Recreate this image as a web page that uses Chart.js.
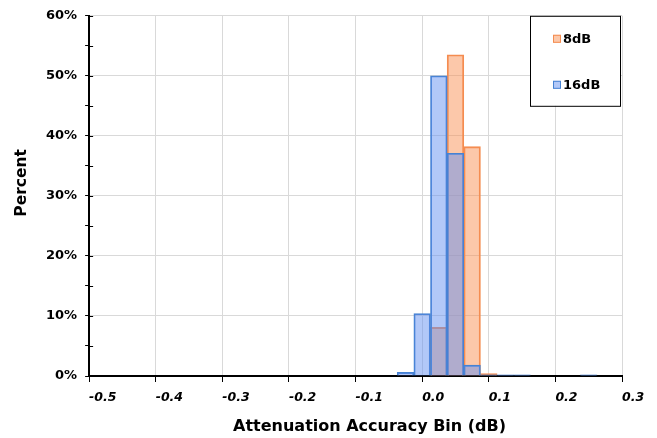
<!DOCTYPE html>
<html>
<head>
<meta charset="utf-8">
<script src="https://cdn.jsdelivr.net/npm/chart.js@4/dist/chart.umd.min.js"></script>
<style>
  html, body { margin: 0; padding: 0; background: #fff; }
  #wrap { width: 657px; height: 438px; }
</style>
</head>
<body>
<div id="wrap"><canvas id="chart" width="657" height="438"></canvas></div>
<script>
// histogram bins (dB, bin centres) and percent per bin
const bins = [-0.025, 0, 0.025, 0.05, 0.075, 0.1, 0.125, 0.15, 0.175, 0.2, 0.225, 0.25];
const pct8dB = [null, null, 8.1, 53.5, 38.2, 0.4, null, null, null, null, null, null];
const pct16dB = [0.6, 10.4, 50.0, 37.1, 1.8, 0.2, 0.2, 0.2, null, null, null, 0.2];
const seriesNames = ['8dB', '16dB'];
const xTitle = 'Attenuation Accuracy Bin (dB)';
const yTitle = 'Percent';

const FONT = '"DejaVu Sans", Verdana, sans-serif';

function toPoints(vals) {
  return bins.map((b, i) => ({ x: b, y: vals[i] }));
}

// axis titles, inner halves of the y tick marks, boxed legend
const extras = {
  id: 'extras',
  afterDraw(chart) {
    const ctx = chart.ctx;
    const area = chart.chartArea;
    const yScale = chart.scales.y;
    ctx.save();

    // y tick marks cross the axis
    ctx.strokeStyle = '#000';
    ctx.lineWidth = 1;
    yScale.ticks.forEach(t => {
      const py = Math.round(yScale.getPixelForValue(t.value)) + 0.5;
      ctx.beginPath();
      ctx.moveTo(area.left, py);
      ctx.lineTo(area.left + 4, py);
      ctx.stroke();
    });

    // titles
    ctx.fillStyle = '#000';
    ctx.font = 'bold 16px ' + FONT;
    ctx.textAlign = 'center';
    ctx.textBaseline = 'alphabetic';
    ctx.fillText(xTitle, (area.left + area.right) / 2 + 14, area.bottom + 55);
    ctx.save();
    ctx.translate(area.left - 67, (area.top + area.bottom) / 2 - 13);
    ctx.rotate(-Math.PI / 2);
    ctx.font = 'bold 15.5px ' + FONT;
    ctx.textBaseline = 'middle';
    ctx.fillText(yTitle, 0, 0);
    ctx.restore();

    // legend box
    const x0 = area.right - 92, y0 = area.top, w = 90, h = 90;
    ctx.fillStyle = '#fff';
    ctx.fillRect(x0, y0, w, h);
    ctx.strokeStyle = '#000';
    ctx.strokeRect(x0 + 0.5, y0 + 0.5, w, h);
    ctx.font = 'bold 13px ' + FONT;
    ctx.textAlign = 'left';
    ctx.textBaseline = 'middle';
    chart.data.datasets.forEach((ds, i) => {
      const cy = y0 + 23 + i * 46;
      ctx.fillStyle = ds.backgroundColor;
      ctx.fillRect(x0 + 23, cy - 4, 8, 8);
      ctx.strokeStyle = ds.borderColor;
      ctx.strokeRect(x0 + 23.5, cy - 3.5, 7, 7);
      ctx.fillStyle = '#000';
      ctx.fillText(ds.label, x0 + 33, cy + 1);
    });
    ctx.restore();
  }
};

new Chart(document.getElementById('chart'), {
  type: 'bar',
  data: {
    datasets: [
      {
        label: seriesNames[0],
        data: toPoints(pct8dB),
        backgroundColor: 'rgba(249,145,85,0.5)',
        borderColor: 'rgb(244,140,80)',
        borderWidth: 1.2,
        order: 1
      },
      {
        label: seriesNames[1],
        data: toPoints(pct16dB),
        backgroundColor: 'rgba(101,145,241,0.5)',
        borderColor: 'rgb(70,130,210)',
        borderWidth: 1.2,
        order: 0
      }
    ]
  },
  options: {
    responsive: false,
    animation: false,
    grouped: false,
    barPercentage: 1,
    categoryPercentage: 1,
    layout: { padding: { top: 3, right: 35, left: 38, bottom: 25 } },
    plugins: {
      legend: { display: false },
      tooltip: { enabled: false }
    },
    scales: {
      x: {
        type: 'linear',
        offset: false,
        min: -0.5,
        max: 0.3,
        ticks: {
          stepSize: 0.1,
          align: 'start',
          maxRotation: 0,
          padding: 8,
          color: '#000',
          font: { family: FONT, size: 12.5, weight: 'bold', style: 'italic' },
          callback: v => (Math.abs(v) < 1e-9 ? 0 : v).toFixed(1)
        },
        grid: { offset: false, color: '#d9d9d9', tickColor: '#000', tickLength: 6, lineWidth: 1 },
        border: { color: '#000', width: 2 }
      },
      y: {
        min: 0,
        max: 60,
        ticks: {
          stepSize: 5,
          padding: 8,
          color: '#000',
          font: { family: FONT, size: 13, weight: 'bold' },
          callback: v => (v % 10 === 0 ? v + '%' : '')
        },
        grid: {
          color: c => (c.tick && c.tick.value % 10 === 0 ? '#d9d9d9' : 'rgba(0,0,0,0)'),
          tickColor: '#000',
          tickLength: 4,
          lineWidth: 1
        },
        border: { color: '#000', width: 2 }
      }
    }
  },
  plugins: [extras]
});
</script>
</body>
</html>
